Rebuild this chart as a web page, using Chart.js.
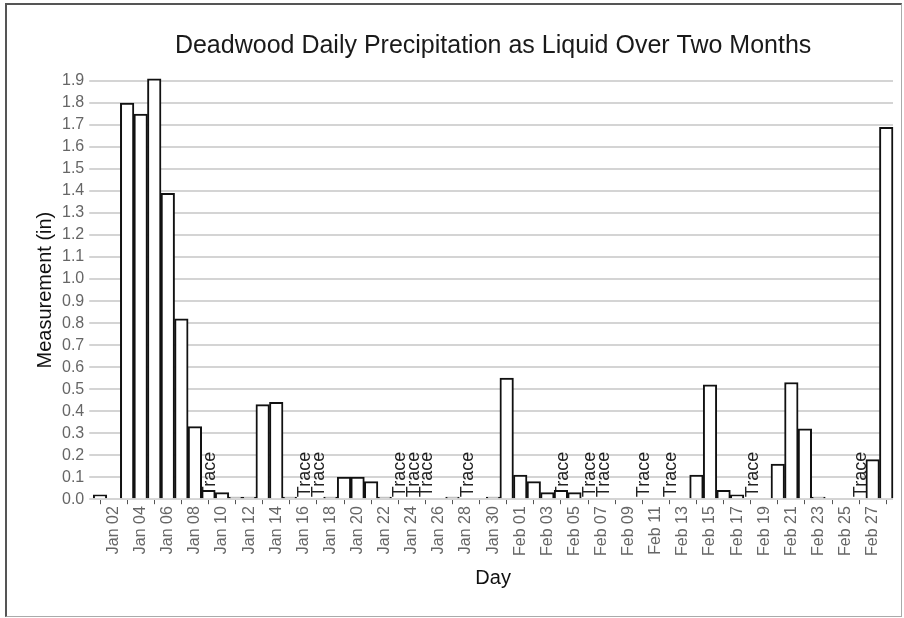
<!DOCTYPE html>
<html>
<head>
<meta charset="utf-8">
<script src="https://cdn.jsdelivr.net/npm/chart.js@4.4.0/dist/chart.umd.min.js"></script>
<style>
  html, body { margin: 0; padding: 0; background: #fff; }
  #wrap { position: absolute; left: 0; top: 0; width: 904px; height: 618px; }
  #frame {
    position: absolute; left: 5px; top: 3px; width: 897px; height: 614px;
    box-sizing: border-box; pointer-events: none;
    border-top: 2px solid #555; border-left: 2px solid #555;
    border-right: 1px solid #aaa; border-bottom: 1px solid #aaa;
  }
</style>
</head>
<body>
<div id="wrap"><canvas id="chart" width="904" height="618"></canvas></div>
<div id="frame"></div>
<script>
const days = [
  'Jan 01', 'Jan 02', 'Jan 03', 'Jan 04', 'Jan 05', 'Jan 06', 'Jan 07', 'Jan 08', 'Jan 09', 'Jan 10',
  'Jan 11', 'Jan 12', 'Jan 13', 'Jan 14', 'Jan 15', 'Jan 16', 'Jan 17', 'Jan 18', 'Jan 19', 'Jan 20',
  'Jan 21', 'Jan 22', 'Jan 23', 'Jan 24', 'Jan 25', 'Jan 26', 'Jan 27', 'Jan 28', 'Jan 29', 'Jan 30',
  'Jan 31', 'Feb 01', 'Feb 02', 'Feb 03', 'Feb 04', 'Feb 05', 'Feb 06', 'Feb 07', 'Feb 08', 'Feb 09',
  'Feb 10', 'Feb 11', 'Feb 12', 'Feb 13', 'Feb 14', 'Feb 15', 'Feb 16', 'Feb 17', 'Feb 18', 'Feb 19',
  'Feb 20', 'Feb 21', 'Feb 22', 'Feb 23', 'Feb 24', 'Feb 25', 'Feb 26', 'Feb 27', 'Feb 28'
];

// inches of liquid per day
const precip = [
  0.02, 0, 1.80, 1.75, 1.91, 1.39, 0.82, 0.33, 0.04, 0.03,
  0.01, 0.01, 0.43, 0.44, 0.01, 0, 0, 0.01, 0.10, 0.10,
  0.08, 0.01, 0, 0, 0, 0, 0.01, 0, 0, 0.01,
  0.55, 0.11, 0.08, 0.03, 0.04, 0.03, 0, 0, 0, 0,
  0, 0, 0, 0, 0.11, 0.52, 0.04, 0.02, 0, 0,
  0.16, 0.53, 0.32, 0.01, 0, 0, 0, 0.18, 1.69
];

// days reported only as a trace
const traceDays = [
  'Jan 09', 'Jan 16', 'Jan 17', 'Jan 23', 'Jan 24', 'Jan 25', 'Jan 28',
  'Feb 04', 'Feb 06', 'Feb 07', 'Feb 10', 'Feb 12', 'Feb 18', 'Feb 26'
];

const FONT = '"Liberation Sans", Arial, sans-serif';

const traceLabels = {
  id: 'traceLabels',
  beforeDatasetsDraw(chart) {
    const { ctx, scales: { x, y } } = chart;
    ctx.save();
    ctx.font = '18px ' + FONT;
    ctx.fillStyle = '#222';
    ctx.textAlign = 'left';
    ctx.textBaseline = 'middle';
    traceDays.forEach(d => {
      const px = x.getPixelForValue(days.indexOf(d));
      const py = y.getPixelForValue(0);
      ctx.save();
      ctx.translate(px + 2, py - 2);
      ctx.rotate(-Math.PI / 2);
      ctx.fillText('Trace', 0, 0);
      ctx.restore();
    });
    ctx.restore();
  }
};

// title centred over the plot area rather than the canvas
const plotTitle = {
  id: 'plotTitle',
  afterDraw(chart) {
    const { ctx, chartArea } = chart;
    ctx.save();
    ctx.font = '25px ' + FONT;
    ctx.fillStyle = '#1a1a1a';
    ctx.textAlign = 'center';
    ctx.textBaseline = 'middle';
    ctx.fillText('Deadwood Daily Precipitation as Liquid Over Two Months', (chartArea.left + chartArea.right) / 2, 46);
    ctx.restore();
  }
};

new Chart(document.getElementById('chart'), {
  type: 'bar',
  data: {
    labels: days,
    datasets: [{
      data: precip,
      backgroundColor: '#fff',
      borderColor: '#111',
      borderWidth: 2,
      barPercentage: 1,
      categoryPercentage: 1,
      clip: false
    }]
  },
  options: {
    responsive: false,
    animation: false,
    layout: { padding: { top: 81, right: 11, left: 33, bottom: 28 } },
    plugins: {
      legend: { display: false },
      tooltip: { enabled: false }
    },
    scales: {
      x: {
        afterBuildTicks: scale => {
          scale.ticks = scale.ticks.filter(t => t.value % 2 === 1);
        },
        grid: { drawOnChartArea: false, drawTicks: true, tickLength: 5, tickColor: '#555' },
        border: { display: false },
        ticks: {
          autoSkip: false, minRotation: 90, maxRotation: 90,
          color: '#666', font: { family: FONT, size: 16 }, padding: 2
        },
        title: { display: true, text: 'Day', color: '#111', font: { family: FONT, size: 20 }, padding: { top: 8, bottom: 0 } }
      },
      y: {
        min: 0,
        max: 1.9,
        grid: { color: '#d4d4d4', lineWidth: 2, tickLength: 4 },
        border: { display: false },
        ticks: {
          stepSize: 0.1,
          autoSkip: false,
          callback: v => v.toFixed(1),
          color: '#666', font: { family: FONT, size: 16 }, padding: 5
        },
        title: { display: true, text: 'Measurement (in)', color: '#111', font: { family: FONT, size: 20 }, padding: 0 }
      }
    }
  },
  plugins: [traceLabels, plotTitle]
});
</script>
</body>
</html>
